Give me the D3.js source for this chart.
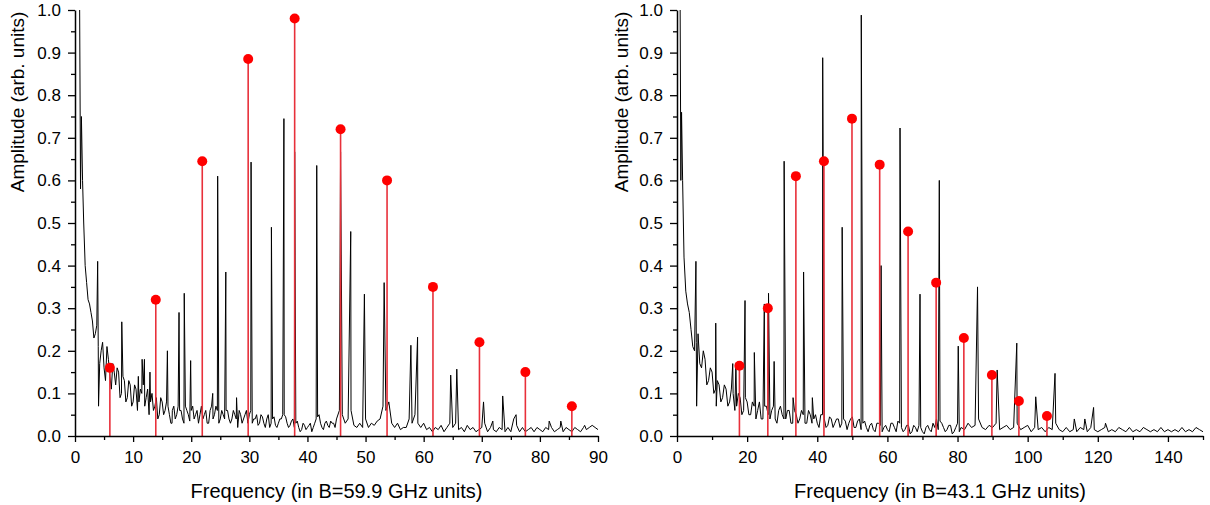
<!DOCTYPE html>
<html lang="en">
<head>
<meta charset="utf-8">
<title>Amplitude spectra</title>
<script src="https://d3js.org/d3.v7.min.js"></script>
<style>
  body { margin: 0; background: #fff; }
  svg text { font-family: "Liberation Sans", Arial, sans-serif; fill: #000; }
</style>
</head>
<body>
<div id="chart"></div>
<script>
// ---- left panel (B = 59.9 GHz) ----
// first strong spike near zero frequency
var leftHead = [[0.8, 1.0], [0.95, 0.58], [1.1, 0.75], [1.3, 0.6]];
// noise floor, sampled every 0.5 units starting at 1.5
var leftNoiseStart = 1.5, leftNoiseStep = 0.5;
var leftNoise = [
  .50, .36, .31, .27, .24, .21, .20, .16, .21, .14, .17, .12, .15, .10, .13, .09, .12, .08, .11, .08,
  .10, .07, .11, .08, .06, .09, .05, .08, .06, .07, .03, .07, .05, .06, .04, .07, .05, .06, .04, .06,
  .05, .04, .06, .03, .07, .05, .06, .04, .05, .06, .04, .04, .05, .02, .05, .04, .06, .05, .03, .04,
  .025, .05, .03, .04, .02, .04, .025, .03, .04, .05, .03, .025, .04, .03, .02, .015, .025, .02, .03, .02,
  .04, .05, .02, .03, .025, .035, .03, .04, .06, .05, .03, .04, .06, .025, .02, .03, .02, .04, .02, .03,
  .025, .035, .04, .07, .06, .08, .03, .02, .03, .015, .02, .02, .04, .03, .05, .03, .02, .03, .015, .02,
  .01, .02, .015, .025, .01, .02, .03, .02, .03, .015, .02, .01, .025, .015, .02, .01, .015, .02, .03, .01,
  .02, .015, .01, .02, .015, .01, .02, .01, .04, .025, .01, .02, .01, .015, .02, .01, .02, .015, .01, .02,
  .015, .02, .01, .015, .02, .01, .02, .015, .01, .02, .015, .01, .02, .015, .02, .025, .02, .015
];
// extra noise samples between the ones above (dense low-frequency band)
var leftMidStart = 1.75, leftMidStep = 0.5;
var leftNoiseMid = [
  .40, .32, .29, .23, .26, .17, .22, .13, .18, .11, .15, .16, .09, .14, .08, .13, .07, .12, .06, .11,
  .12, .09, .05, .10, .07, .04, .09, .05, .08, .05, .06, .04, .07, .06, .03, .06, .035, .07, .05, .03,
  .07, .05, .03, .06, .04, .07, .03, .06, .04, .06, .03, .06, .04, .06, .03, .05, .03, .06, .04, .05,
  .03, .045, .02, .05, .03, .045, .02, .04, .05, .045, .02, .035, .02, .035, .01, .03, .015, .025, .01, .03,
  .045, .03, .015, .035, .02, .03, .02
];
// sharp lines of the spectrum [frequency, amplitude]
var leftPeaks = [
  [3.9, 0.41], [4.05, 0.07], [8.05, 0.268], [10.9, 0.14], [11.55, 0.18], [11.95, 0.18], [12.9, 0.15],
  [15.9, 0.20], [16.7, 0.03], [17.9, 0.29], [18.8, 0.335], [19.9, 0.177], [23.7, 0.10], [24.55, 0.61],
  [25.95, 0.385], [27.8, 0.09], [30.3, 0.643], [33.8, 0.49], [35.95, 0.745], [37.8, 0.667],
  [41.6, 0.635], [45.7, 0.667], [47.45, 0.48], [49.8, 0.333], [53.2, 0.36], [57.8, 0.213],
  [58.95, 0.232], [64.65, 0.143], [65.7, 0.157], [70.3, 0.08], [71.9, 0.035], [73.6, 0.094],
  [75.9, 0.05], [81.6, 0.035], [83.6, 0.035], [87.7, 0.025]
];
// red markers
var leftRedFreq = [6.0, 13.9, 21.9, 29.8, 37.8, 45.7, 53.7, 61.6, 69.6, 77.5, 85.5];
var leftRedAmp = [0.16, 0.32, 0.645, 0.885, 0.98, 0.72, 0.60, 0.35, 0.22, 0.15, 0.07];

// ---- right panel (B = 43.1 GHz) ----
var rightHead = [[0.9, 1.0], [1.1, 0.6], [1.3, 0.76], [1.6, 0.6]];
var rightNoiseStart = 2, rightNoiseStep = 1;
var rightNoise = [
  .42, .31, .25, .20, .24, .16, .18, .13, .15, .11, .12, .09, .11, .08, .10, .07, .09, .06, .08, .05,
  .07, .06, .04, .07, .05, .06, .04, .06, .05, .04, .06, .03, .05, .04, .05, .03, .05, .04, .03, .05,
  .04, .025, .04, .03, .04, .03, .035, .03, .045, .02, .04, .03, .02, .025, .015, .03, .025, .02, .015, .03,
  .02, .035, .02, .015, .025, .01, .02, .025, .01, .02, .015, .03, .04, .035, .02, .015, .025, .01, .03, .02,
  .015, .03, .02, .025, .04, .02, .015, .025, .02, .03, .015, .02, .025, .015, .02, .03, .015, .02, .025, .01,
  .02, .015, .02, .01, .02, .015, .03, .015, .01, .02, .01, .015, .01, .02, .015, .01, .02, .015, .01, .015,
  .02, .01, .015, .01, .02, .015, .01, .02, .01, .015, .01, .02, .015, .01, .015, .01, .02, .01, .015, .01,
  .015, .01, .02, .01, .015, .01, .02, .015, .01
];
var rightMidStart = 2.5, rightMidStep = 1;
var rightNoiseMid = [
  .34, .29, .21, .22, .17, .20, .12, .16, .10, .13, .08, .12, .07, .11, .06, .10, .05, .09, .05, .08,
  .04, .08, .04, .07, .04, .07, .03, .07, .04, .06, .03, .06, .03, .06, .03, .06, .03, .05, .02, .05,
  .02, .045, .02, .04, .02, .04, .015, .04, .02, .035, .015, .035, .01, .03, .01, .03, .01, .025, .01, .03,
  .01, .03, .01, .025, .005, .025, .01, .02, .005, .025, .01, .02, .015, .03, .01, .025, .005, .02, .01
];
var rightPeaks = [
  [5.4, 0.41], [5.6, 0.07], [11.05, 0.265], [11.2, 0.07], [15.9, 0.17], [16.8, 0.17], [19.4, 0.318],
  [22.05, 0.196], [24.9, 0.31], [26.1, 0.335], [27.7, 0.175], [30.55, 0.645], [33.1, 0.09],
  [36.1, 0.385], [38.6, 0.09], [41.55, 0.888], [47.1, 0.49], [52.55, 0.988], [58.2, 0.40],
  [63.6, 0.723], [69.3, 0.333], [74.8, 0.60], [80.2, 0.211], [85.7, 0.35], [91.3, 0.155],
  [96.9, 0.218], [102.3, 0.092], [107.8, 0.147], [113.3, 0.04], [116.3, 0.04], [118.8, 0.067],
  [122.2, 0.03]
];
var rightRedFreq = [17.8, 25.9, 33.9, 41.9, 49.9, 57.8, 65.9, 73.9, 81.8, 89.8, 97.5, 105.5];
var rightRedAmp = [0.165, 0.30, 0.61, 0.645, 0.745, 0.637, 0.48, 0.36, 0.23, 0.143, 0.082, 0.047];

// axis ticks
var yMajor = [0, 0.1, 0.2, 0.3, 0.4, 0.5, 0.6, 0.7, 0.8, 0.9, 1.0];
var yMinor = [0.05, 0.15, 0.25, 0.35, 0.45, 0.55, 0.65, 0.75, 0.85, 0.95];
var leftXMajor = [0, 10, 20, 30, 40, 50, 60, 70, 80, 90];
var leftXMinor = [5, 15, 25, 35, 45, 55, 65, 75, 85];
var rightXMajor = [0, 20, 40, 60, 80, 100, 120, 140];
var rightXMinor = [10, 30, 50, 70, 90, 110, 130, 150];

var W = 1210, H = 505;
var svg = d3.select("#chart").append("svg")
    .attr("width", W)
    .attr("height", H);

function buildSpectrum(p) {
  var pts = p.head.slice();
  p.noise.forEach(function(v, i) { pts.push([p.start + i * p.step, v]); });
  p.mid.forEach(function(v, i) { pts.push([p.midStart + i * p.midStep, v]); });
  p.peaks.forEach(function(d) { pts.push(d); });
  return pts.sort(function(a, b) { return a[0] - b[0]; });
}

function drawPanel(p) {
  var x = d3.scaleLinear().domain([0, p.xMax]).range([p.left, p.right]);
  var y = d3.scaleLinear().domain([0, 1]).range([436, 10]);

  var spec = buildSpectrum(p);

  // black spectrum
  svg.append("path")
    .datum(spec)
    .attr("fill", "none")
    .attr("stroke", "#000")
    .attr("stroke-width", 1)
    .attr("d", d3.line()
      .x(function(d) { return x(d[0]); })
      .y(function(d) { return y(d[1]); }));

  // red stems + dots
  var red = p.redFreq.map(function(f, i) { return [f, p.redAmp[i]]; });
  svg.selectAll(null)
    .data(red)
    .enter()
    .append("line")
      .attr("x1", function(d) { return x(d[0]); })
      .attr("x2", function(d) { return x(d[0]); })
      .attr("y1", y(0))
      .attr("y2", function(d) { return y(d[1]); })
      .attr("stroke", "#e8303a")
      .attr("stroke-width", 1.6);
  svg.selectAll(null)
    .data(red)
    .enter()
    .append("circle")
      .attr("cx", function(d) { return x(d[0]); })
      .attr("cy", function(d) { return y(d[1]); })
      .attr("r", 5)
      .attr("fill", "#f00");

  // Y axis: minor ticks, then major ticks with labels
  svg.append("g")
    .attr("transform", "translate(" + p.left + ",0)")
    .call(d3.axisLeft(y).tickValues(yMinor).tickSize(4).tickFormat(""))
    .call(function(g) { g.select(".domain").remove(); });
  var ya = svg.append("g")
    .attr("transform", "translate(" + p.left + ",0)")
    .call(d3.axisLeft(y).tickValues(yMajor).tickSize(7).tickSizeOuter(0).tickPadding(7)
      .tickFormat(d3.format(".1f")));
  ya.selectAll("text").style("font-size", "17px");

  // X axis
  svg.append("g")
    .attr("transform", "translate(0,436)")
    .call(d3.axisBottom(x).tickValues(p.xMinor).tickSize(4).tickFormat(""))
    .call(function(g) { g.select(".domain").remove(); });
  var xa = svg.append("g")
    .attr("transform", "translate(0,436)")
    .call(d3.axisBottom(x).tickValues(p.xMajor).tickSize(6).tickSizeOuter(0).tickPadding(9));
  xa.selectAll("text").style("font-size", "17px");

  svg.selectAll(".domain").attr("stroke-width", 1.5);
  svg.selectAll(".tick line").attr("stroke-width", 1.3);

  // titles
  svg.append("text")
    .attr("text-anchor", "middle")
    .attr("x", (p.left + p.right) / 2)
    .attr("y", 498)
    .style("font-size", "20px")
    .text(p.xTitle);

  svg.append("text")
    .attr("text-anchor", "middle")
    .attr("transform", "translate(" + p.yTitleX + ",102)rotate(-90)")
    .style("font-size", "19px")
    .text("Amplitude (arb. units)");
}

drawPanel({
  left: 75, right: 598, xMax: 90,
  head: leftHead, start: leftNoiseStart, step: leftNoiseStep, noise: leftNoise,
  midStart: leftMidStart, midStep: leftMidStep, mid: leftNoiseMid, peaks: leftPeaks,
  redFreq: leftRedFreq, redAmp: leftRedAmp,
  xMajor: leftXMajor, xMinor: leftXMinor,
  xTitle: "Frequency (in B=59.9 GHz units)", yTitleX: 24
});

drawPanel({
  left: 677, right: 1203, xMax: 150,
  head: rightHead, start: rightNoiseStart, step: rightNoiseStep, noise: rightNoise,
  midStart: rightMidStart, midStep: rightMidStep, mid: rightNoiseMid, peaks: rightPeaks,
  redFreq: rightRedFreq, redAmp: rightRedAmp,
  xMajor: rightXMajor, xMinor: rightXMinor,
  xTitle: "Frequency (in B=43.1 GHz units)", yTitleX: 628
});
</script>
</body>
</html>
